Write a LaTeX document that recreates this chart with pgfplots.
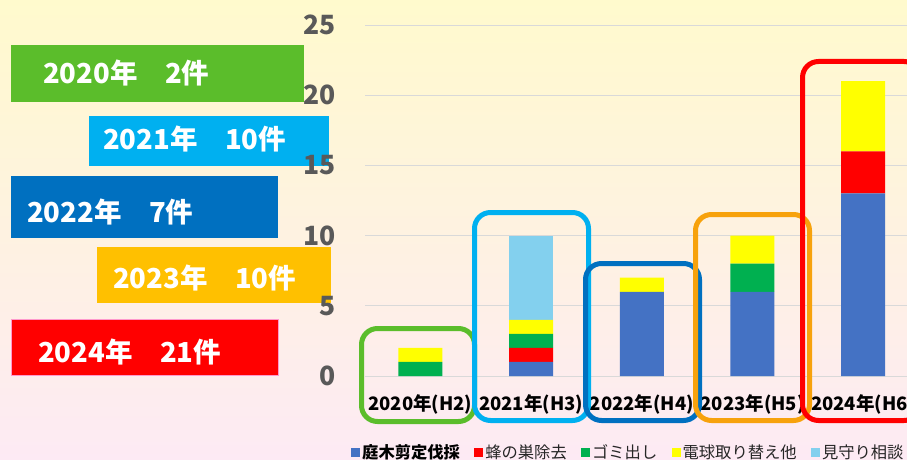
\documentclass[border=0pt]{standalone}
\usepackage{fontspec}
\setmainfont{Noto Sans CJK JP}
\usepackage{pgfplots}
\pgfplotsset{compat=1.18}
\definecolor{cBlue}{HTML}{4472C4}
\definecolor{cRed}{HTML}{FF0000}
\definecolor{cGreen}{HTML}{00B050}
\definecolor{cYellow}{HTML}{FFFF00}
\definecolor{cLight}{HTML}{83D0EE}
\definecolor{bGreen}{HTML}{5BBD2B}
\definecolor{bCyan}{HTML}{00B0F0}
\definecolor{bBlue}{HTML}{0070C0}
\definecolor{bOrange}{HTML}{FFC000}
\definecolor{rOrange}{HTML}{F7A20C}
\definecolor{bgTop}{HTML}{FFFACD}
\definecolor{bgBot}{HTML}{FDEAF4}
\definecolor{tickgray}{HTML}{595959}
\definecolor{gridgray}{HTML}{D9D9D9}
\begin{document}
\begin{tikzpicture}
\useasboundingbox (0,0) rectangle (907pt,459pt);
\clip (0,0) rectangle (907pt,459pt);
\shade[top color=bgTop, bottom color=bgBot] (0,0) rectangle (907pt,459pt);
\begin{scope}[x=1pt,y=-1pt,yshift=459pt, every node/.style={anchor=west, inner sep=0pt, text=white, font=\fontsize{27.5}{27.5}\selectfont\bfseries}]
\fill[bGreen] (11,45) rectangle (304,102);
\node at (43,73) {2020年　2件};
\fill[bCyan] (89,116) rectangle (329,166);
\node at (103,139) {2021年　10件};
\fill[bBlue] (11,176) rectangle (278,238);
\node at (27,212) {2022年　7件};
\fill[bOrange] (97,247) rectangle (331,303);
\node at (113,278) {2023年　10件};
\fill[red, draw=pink!80!magenta, line width=0.8pt] (11,319) rectangle (278,375);
\node at (38,352) {2024年　21件};
\end{scope}
\begin{axis}[
  at={(365pt,83pt)}, anchor=south west,
  scale only axis, width=553.5pt, height=351pt,
  xmin=-0.5, xmax=4.5, ymin=0, ymax=25,
  ybar stacked, bar width=44pt,
  clip=false,
  axis line style={draw=none},
  major tick length=0pt,
  ytick={0,5,10,15,20,25},
  ymajorgrids, grid style={draw=gridgray, line width=1pt},
  xtick={0,1,2,3,4},
  xticklabels={2020年(H2),2021年(H3),2022年(H4),2023年(H5),2024年(H6)},
  /pgf/number format/assume math mode=true,
  yticklabel style={anchor=east, inner sep=0pt, xshift=-29pt, text=tickgray, font=\fontsize{26.5}{26.5}\selectfont\bfseries},
  xticklabel style={anchor=center, inner sep=0pt, yshift=-28pt, text=black, font=\fontsize{18.5}{18.5}\selectfont\bfseries},
  legend columns=-1,
  legend style={draw=none, fill=none, at={(-0.0253,-0.2165)}, anchor=west, inner sep=0pt,
    font=\fontsize{16.3}{16.3}\selectfont, text=black!85,
    nodes={inner sep=2pt},
    /tikz/every even column/.append style={column sep=12.3pt}},
  legend image code/.code={\fill[#1] (0pt,-4.5pt) rectangle (9pt,4.5pt);},
]
\addplot[fill=cBlue, draw=none] coordinates {(0,0) (1,1) (2,6) (3,6) (4,13)};
\addplot[fill=cRed, draw=none] coordinates {(0,0) (1,1) (2,0) (3,0) (4,3)};
\addplot[fill=cGreen, draw=none] coordinates {(0,1) (1,1) (2,0) (3,2) (4,0)};
\addplot[fill=cYellow, draw=none] coordinates {(0,1) (1,1) (2,1) (3,2) (4,5)};
\addplot[fill=cLight, draw=none] coordinates {(0,0) (1,6) (2,0) (3,0) (4,0)};
\legend{\textcolor{black}{\bfseries 庭木剪定伐採},蜂の巣除去,ゴミ出し,電球取り替え他,見守り相談}
\end{axis}
\begin{scope}[x=1pt,y=-1pt,yshift=459pt, line width=5pt, rounded corners=16pt]
\draw[bGreen] (361.5,328.5) rectangle (474.5,421.5);
\draw[bCyan] (474.5,212.5) rectangle (588.5,420.5);
\draw[bBlue] (585.5,263.5) rectangle (699.5,420.5);
\draw[rOrange] (695.5,214.5) rectangle (809.5,420.5);
\draw[red] (802.5,61.5) rectangle (920,420.5);
\end{scope}
\end{tikzpicture}
\end{document}
